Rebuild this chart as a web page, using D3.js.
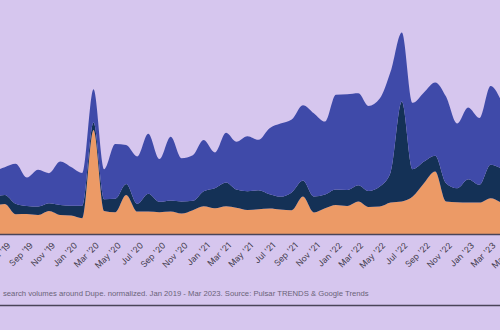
<!DOCTYPE html>
<html>
<head>
<meta charset="utf-8">
<script src="https://cdn.jsdelivr.net/npm/d3@7"></script>
<style>
  html, body { margin: 0; padding: 0; background: #d6c6ee; }
  #js_chart { width: 500px; height: 330px; overflow: hidden; }
  text { font-family: Inter, "Noto Sans", sans-serif; }
</style>
</head>
<body>
<div id="js_chart"></div>
<script>

// monthly values, Jan 2019 - Mar 2023 (normalized)
const months = [
    "2019-01","2019-02","2019-03","2019-04","2019-05","2019-06","2019-07","2019-08","2019-09","2019-10","2019-11","2019-12",
    "2020-01","2020-02","2020-03","2020-04","2020-05","2020-06","2020-07","2020-08","2020-09","2020-10","2020-11","2020-12",
    "2021-01","2021-02","2021-03","2021-04","2021-05","2021-06","2021-07","2021-08","2021-09","2021-10","2021-11","2021-12",
    "2022-01","2022-02","2022-03","2022-04","2022-05","2022-06","2022-07","2022-08","2022-09","2022-10","2022-11","2022-12",
    "2023-01","2023-02","2023-03"
];

const bottomSeries = [
    14, 12, 15, 13, 14, 15, 9.9, 10, 9.5, 11.5, 9.5, 9.2,
    7.9, 52, 11.5, 10.9, 19.5, 11.2, 11.2, 10.9, 11.2, 10.2, 11.9, 13.9,
    12.9, 13.9, 13.1, 12, 12.4, 12.7, 12.2, 11.9, 18.7, 10.8, 12.9, 14.5,
    14, 16.2, 13.5, 13.7, 15.7, 16.2, 18.7, 25.4, 31.2, 16.2, 15.9, 15.7,
    15.7, 17.9, 15.7
];

const middleSeries = [
    4, 5, 4, 5, 4.5, 4.5, 5.2, 4, 4.2, 3.9, 5, 4.9,
    6.2, 3.7, 5.9, 6.7, 5.5, 3.9, 8.9, 5.2, 5.6, 6.1, 4.7, 7.5,
    10, 11.8, 9.1, 9.4, 9.5, 7.2, 6.5, 8.9, 8, 7.9, 6.8, 7.7,
    8, 8.2, 8, 10, 15, 50, 13.7, 10.8, 7.9, 9.2, 7, 11.7,
    8.9, 16.7, 17.2
];

const topSeries = [
    15, 14, 16, 13, 13, 13.9, 20, 14.2, 18.4, 15, 21.7, 19.4,
    16.4, 16.7, 15, 27.4, 19.5, 23.7, 30, 21.4, 31.8, 21.6, 22.8, 25.6,
    17.9, 24.9, 23.9, 27.5, 25.2, 33, 36.5, 36.4, 37.7, 41.7, 36.5, 47.4,
    47.9, 46, 42.5, 44, 50.5, 34.6, 33.2, 34.6, 36.7, 43.3, 32.3, 35.8,
    33.4, 39.4, 34.2
];

// every second month; earlier ones fall left of the visible area
const tickMonths = [
    "2019-07","2019-09","2019-11",
    "2020-01","2020-03","2020-05","2020-07","2020-09","2020-11",
    "2021-01","2021-03","2021-05","2021-07","2021-09","2021-11",
    "2022-01","2022-03","2022-05","2022-07","2022-09","2022-11",
    "2023-01","2023-03","2023-05"
];

const caption = "search volumes around Dupe. normalized. Jan 2019 - Mar 2023. Source: Pulsar TRENDS & Google Trends";

const seriesKeys = ["bottom", "middle", "top"];
const seriesColors = {bottom: "#ec9a66", middle: "#143156", top: "#3f4aa9"};

function createPlot() {
    const width = 500, height = 330;
    const parseMonth = d3.timeParse("%Y-%m");

    // one row per month, placed mid-month
    let rows = months.map(function (m, i) {
        let d = parseMonth(m);
        return {
            date: new Date(d.getFullYear(), d.getMonth(), 15),
            bottom: bottomSeries[i],
            middle: middleSeries[i],
            top: topSeries[i]
        };
    });

    let x = d3.scaleTime()
        .domain([new Date(2019, 0, 1), new Date(2023, 5, 1)])
        .range([-55, 529]);

    let y = d3.scaleLinear()
        .domain([0, 100])
        .range([234, 34]);

    let svg = d3.select("#js_chart")
        .append("svg")
        .attr("width", width)
        .attr("height", height);

    svg.append("rect")
        .attr("width", width)
        .attr("height", height)
        .attr("fill", "#d6c6ee");

    let stacked = d3.stack().keys(seriesKeys)(rows);

    let area = d3.area()
        .curve(d3.curveMonotoneX)
        .x(function (d) { return x(d.data.date); })
        .y0(function (d) { return y(d[0]); })
        .y1(function (d) { return y(d[1]); });

    svg.append("g")
        .selectAll("path")
        .data(stacked)
        .enter().append("path")
        .attr("d", area)
        .attr("fill", function (d) { return seriesColors[d.key]; });

    // x axis
    let xAxis = svg.append("g")
        .attr("transform", "translate(0,234)")
        .call(d3.axisBottom(x)
            .tickValues(tickMonths.map(parseMonth))
            .tickFormat(d3.timeFormat("%b '%y"))
            .tickSize(0));

    xAxis.select(".domain")
        .attr("stroke", "#4a4458")
        .attr("stroke-width", 1.5);

    xAxis.selectAll("text")
        .attr("fill", "#3f3a4a")
        .attr("font-size", 8.5)
        .attr("dy", 0)
        .attr("y", 0)
        .attr("transform", "translate(0,12) rotate(-45)")
        .style("text-anchor", "end");

    // caption + rule
    svg.append("text")
        .attr("x", 3)
        .attr("y", 296)
        .attr("font-size", 7.7)
        .attr("fill", "#6a6378")
        .style("font-family", "'Liberation Sans', Arial, sans-serif")
        .text(caption);

    svg.append("line")
        .attr("x1", 0).attr("x2", width)
        .attr("y1", 305.5).attr("y2", 305.5)
        .attr("stroke", "#4a4458")
        .attr("stroke-width", 1.5);
}

createPlot();
</script>
</body>
</html>
